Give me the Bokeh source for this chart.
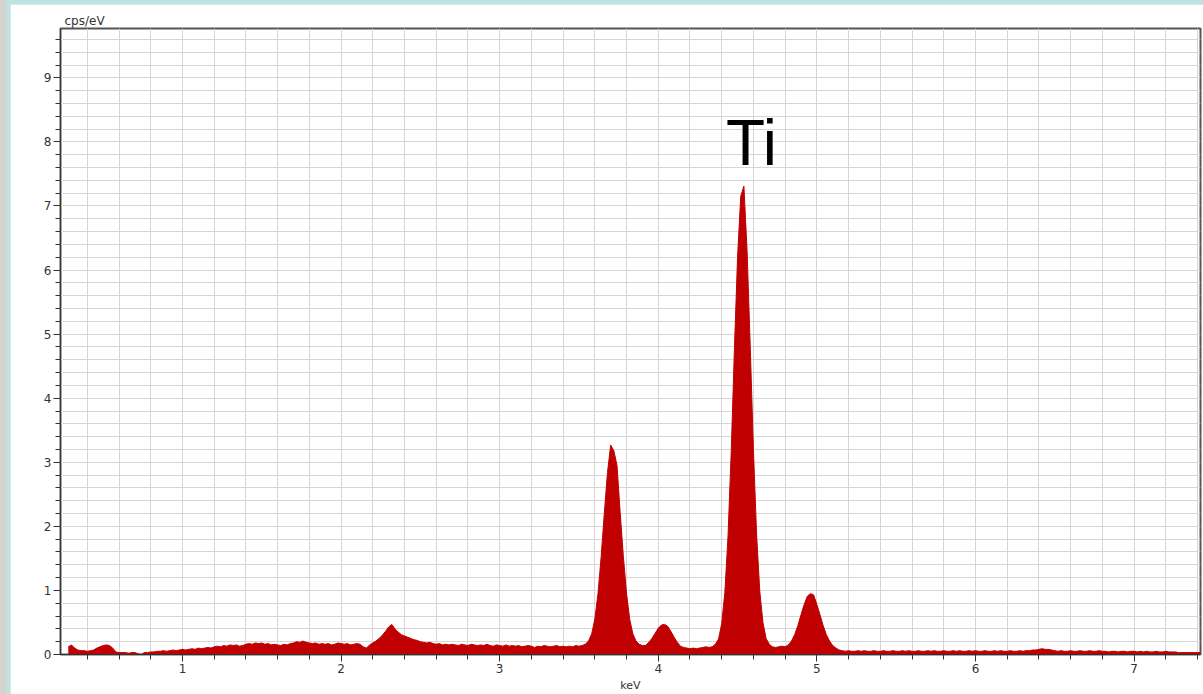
from bokeh.plotting import figure
from bokeh.models import SingleIntervalTicker, Label, ColumnDataSource, Title
from bokeh.layouts import row, column
from bokeh.embed import file_html
from bokeh.resources import INLINE

# ---- data -------------------------------------------------------------
kev_start = 0.28
kev_step = 0.02
cps = [
    0.12, 0.15, 0.10, 0.07, 0.06, 0.06, 0.05, 0.06, 0.07, 0.10,   # 0.28
    0.12, 0.14, 0.15, 0.14, 0.10, 0.04, 0.03, 0.03, 0.03, 0.02,   # 0.48
    0.03, 0.03, 0.01, 0.00, 0.03, 0.03, 0.04, 0.04, 0.05, 0.05,   # 0.68
    0.06, 0.05, 0.06, 0.07, 0.06, 0.07, 0.08, 0.07, 0.08, 0.09,   # 0.88
    0.08, 0.10, 0.09, 0.10, 0.11, 0.10, 0.12, 0.13, 0.12, 0.14,   # 1.08
    0.13, 0.15, 0.14, 0.15, 0.13, 0.14, 0.16, 0.17, 0.16, 0.18,   # 1.28
    0.17, 0.18, 0.16, 0.17, 0.15, 0.16, 0.15, 0.14, 0.16, 0.15,   # 1.48
    0.17, 0.18, 0.20, 0.19, 0.21, 0.19, 0.18, 0.17, 0.18, 0.16,   # 1.68
    0.17, 0.16, 0.17, 0.15, 0.16, 0.18, 0.17, 0.16, 0.17, 0.15,   # 1.88
    0.16, 0.17, 0.16, 0.12, 0.10, 0.15, 0.18, 0.21, 0.25, 0.30,   # 2.08
    0.36, 0.43, 0.47, 0.40, 0.35, 0.31, 0.29, 0.27, 0.25, 0.23,   # 2.28
    0.22, 0.20, 0.19, 0.18, 0.19, 0.17, 0.16, 0.17, 0.15, 0.16,   # 2.48
    0.15, 0.16, 0.15, 0.14, 0.16, 0.15, 0.14, 0.16, 0.15, 0.14,   # 2.68
    0.15, 0.14, 0.16, 0.14, 0.13, 0.15, 0.14, 0.13, 0.15, 0.13,   # 2.88
    0.14, 0.13, 0.14, 0.12, 0.13, 0.14, 0.13, 0.11, 0.13, 0.12,   # 3.08
    0.14, 0.13, 0.12, 0.13, 0.14, 0.12, 0.13, 0.12, 0.13, 0.12,   # 3.28
    0.14, 0.13, 0.14, 0.16, 0.21, 0.32, 0.55, 0.95, 1.53, 2.21,   # 3.48
    2.84, 3.27, 3.18, 2.95, 2.21, 1.53, 0.95, 0.55, 0.32, 0.21,   # 3.68
    0.16, 0.14, 0.14, 0.19, 0.25, 0.33, 0.41, 0.46, 0.47, 0.44,   # 3.88
    0.36, 0.27, 0.19, 0.13, 0.11, 0.10, 0.09, 0.10, 0.09, 0.10,   # 4.08
    0.11, 0.12, 0.11, 0.12, 0.16, 0.24, 0.48, 0.97, 1.85, 3.16,   # 4.28
    4.75, 6.20, 7.15, 7.31, 6.30, 4.80, 3.20, 1.88, 0.99, 0.50,   # 4.48
    0.25, 0.16, 0.12, 0.11, 0.12, 0.13, 0.12, 0.15, 0.21, 0.31,   # 4.68
    0.45, 0.62, 0.78, 0.91, 0.95, 0.93, 0.78, 0.62, 0.45, 0.31,   # 4.88
    0.21, 0.14, 0.10, 0.07, 0.06, 0.05, 0.06, 0.05, 0.05, 0.06,   # 5.08
    0.05, 0.06, 0.05, 0.05, 0.06, 0.05, 0.05, 0.06, 0.05, 0.05,   # 5.28
    0.06, 0.05, 0.05, 0.06, 0.05, 0.06, 0.05, 0.05, 0.06, 0.05,   # 5.48
    0.05, 0.06, 0.05, 0.06, 0.05, 0.05, 0.06, 0.05, 0.05, 0.06,   # 5.68
    0.05, 0.06, 0.05, 0.05, 0.06, 0.05, 0.06, 0.05, 0.05, 0.06,   # 5.88
    0.05, 0.05, 0.06, 0.05, 0.06, 0.05, 0.05, 0.06, 0.05, 0.05,   # 6.08
    0.06, 0.05, 0.06, 0.06, 0.07, 0.07, 0.08, 0.09, 0.08, 0.08,   # 6.28
    0.07, 0.06, 0.05, 0.06, 0.05, 0.05, 0.06, 0.05, 0.05, 0.06,   # 6.48
    0.05, 0.05, 0.06, 0.05, 0.05, 0.06, 0.05, 0.05, 0.04, 0.05,   # 6.68
    0.05, 0.04, 0.05, 0.05, 0.04, 0.05, 0.05, 0.04, 0.05, 0.04,   # 6.88
    0.05, 0.04, 0.04, 0.05, 0.04, 0.04, 0.05, 0.04, 0.04, 0.04,   # 7.08
    0.03, 0.03, 0.03, 0.03, 0.03, 0.03, 0.03, 0.03,               # 7.28
]
kev = [round(kev_start + kev_step * i, 2) for i in range(len(cps))]
baseline = [0.0] * len(cps)

peak_label = "Ti"
peak_label_kev = 4.588
peak_label_cps = 7.985
x_title = "keV"
y_title = "cps/eV"

# ---- figure -----------------------------------------------------------
src = ColumnDataSource(dict(kev=kev, cps=cps, base=baseline))

p = figure(width=1193, height=690, x_range=(0.231, 7.419), y_range=(0, 9.77),
           output_backend="svg", toolbar_location=None,
           min_border_left=50, min_border_right=3, min_border_top=24,
           min_border_bottom=40)
p.margin = (4, 0, 0, 3)
p.background_fill_color = "white"
p.border_fill_color = "white"
p.outline_line_color = "#555555"
p.outline_line_width = 2

p.varea(x="kev", y1="base", y2="cps", source=src, fill_color="#C00000")
p.line(x="kev", y="cps", source=src, line_color="#C00000", line_width=1)

p.title = Title(text=y_title, align="left", offset=4, standoff=2,
                text_font="DejaVu Sans", text_font_size="12px",
                text_font_style="normal", text_color="#333333")

for ax in (p.xaxis[0], p.yaxis[0]):
    ax.ticker = SingleIntervalTicker(interval=1, num_minor_ticks=5)
    ax.axis_line_color = "#333333"
    ax.major_tick_line_color = "#333333"
    ax.minor_tick_line_color = "#333333"
    ax.major_tick_in = 0
    ax.major_tick_out = 7
    ax.minor_tick_in = 0
    ax.minor_tick_out = 5
    ax.major_label_text_font = "DejaVu Sans"
    ax.major_label_text_font_size = "12px"
    ax.major_label_text_color = "#333333"
    ax.major_label_standoff = 2

p.xaxis[0].axis_label = x_title
p.xaxis[0].axis_label_standoff = 3
p.xaxis[0].axis_label_text_font = "DejaVu Sans"
p.xaxis[0].axis_label_text_font_size = "11px"
p.xaxis[0].axis_label_text_font_style = "normal"
p.xaxis[0].axis_label_text_color = "#333333"

for g in (p.xgrid[0], p.ygrid[0]):
    g.ticker = SingleIntervalTicker(interval=0.2, num_minor_ticks=0)
    g.grid_line_color = "#d6d6d6"
    g.grid_line_width = 1

p.add_layout(Label(x=peak_label_kev, y=peak_label_cps, text=peak_label,
                   text_font="Liberation Sans", text_font_size="64px",
                   text_align="center", text_baseline="alphabetic",
                   text_color="black"))

inner = column(p, spacing=0, margin=(0, 0, 0, 7),
               styles={"background-color": "#BFE3E3"})
layout = row(inner, spacing=0, margin=(0, 0, 0, 0),
             styles={"background-color": "#D4D4D0"})

open("out.html", "w").write(file_html(layout, INLINE))
